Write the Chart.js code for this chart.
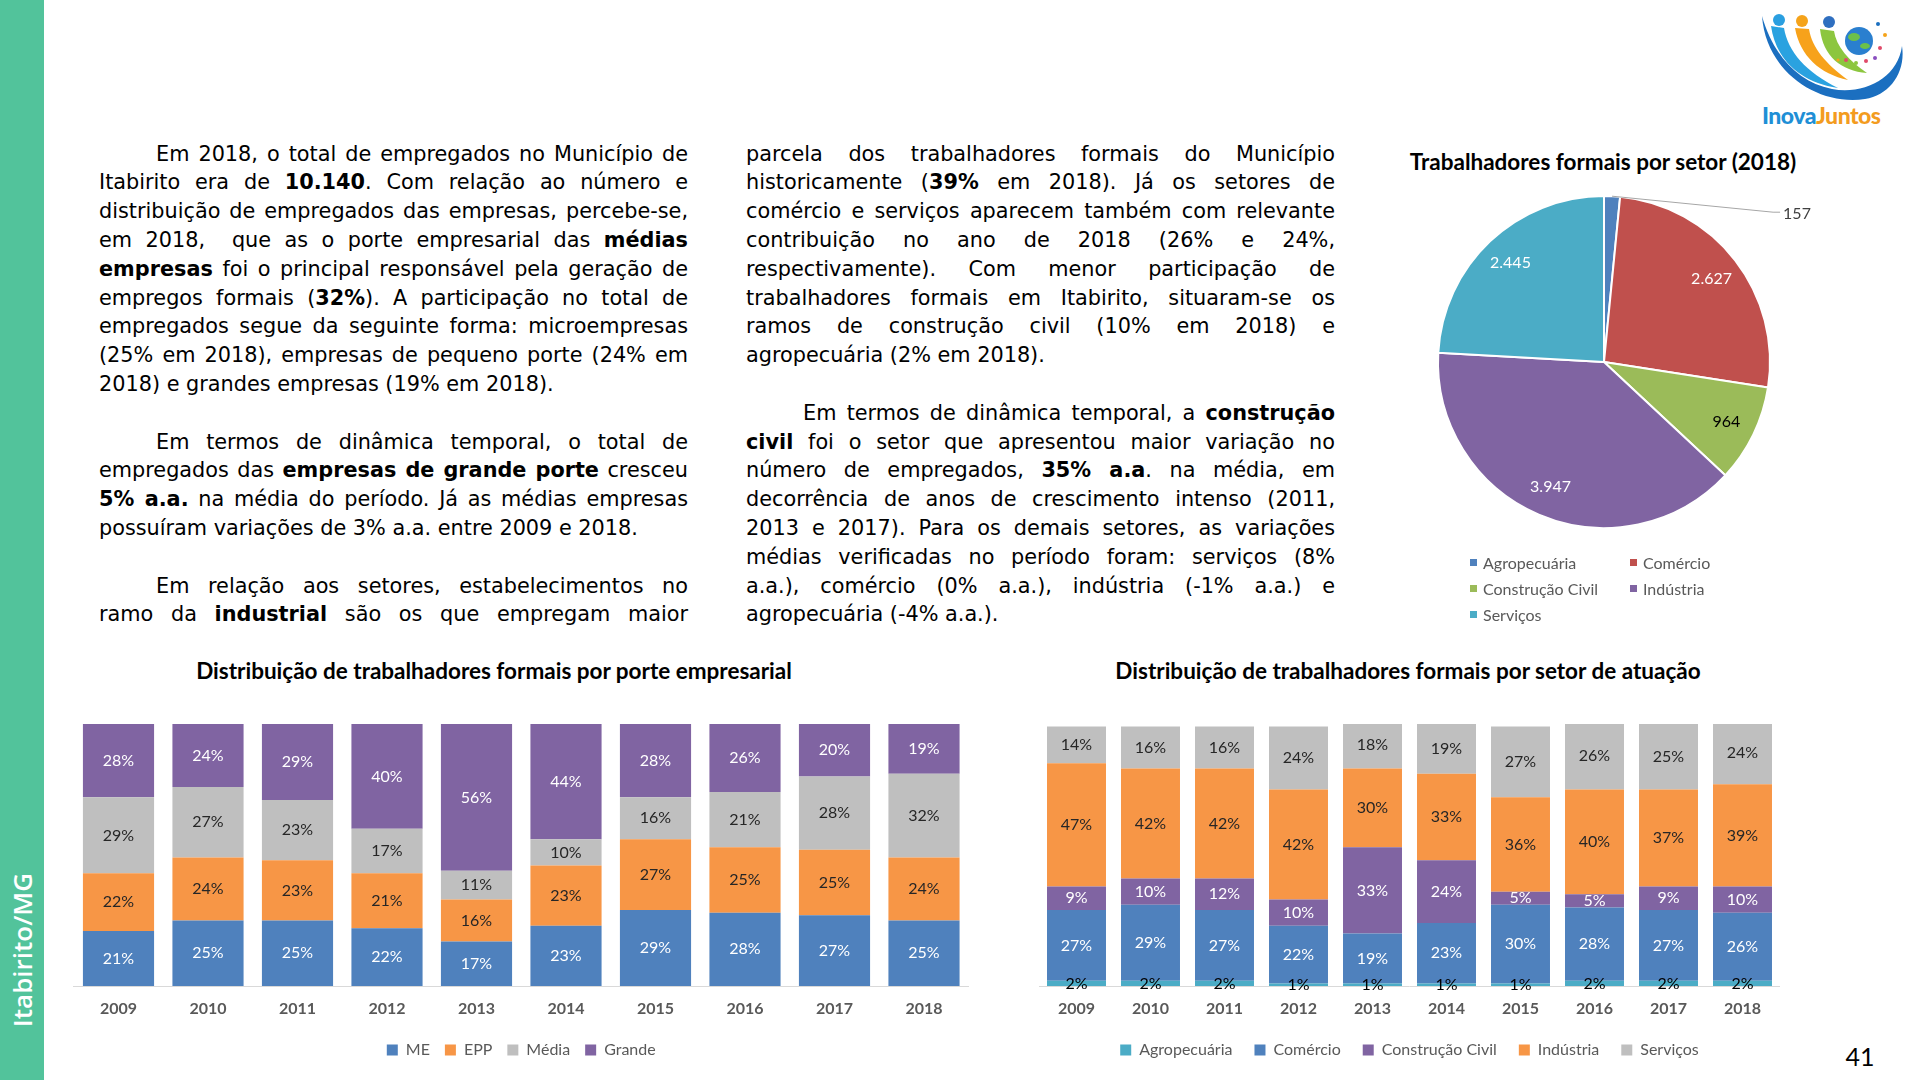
<!DOCTYPE html>
<html lang="pt-BR">
<head>
<meta charset="utf-8">
<title>Itabirito/MG - Trabalhadores formais</title>
<script src="https://cdn.jsdelivr.net/npm/chart.js@4.4.1/dist/chart.umd.min.js"></script>
<style>
  html, body { margin:0; padding:0; background:#fff; }
  #page { position:relative; width:1920px; height:1080px; overflow:hidden; background:#fff; }
  #strip { position:absolute; left:0; top:0; width:44px; height:1080px; background:#52c39b; }
  #stripText { position:absolute; left:22px; top:950px; transform:translate(-50%,-50%) rotate(-90deg);
    color:#fff; font-family:'Open Sans'; font-weight:600; font-size:26px; white-space:nowrap; }
  .col { position:absolute; top:139.6px; width:589px; font-family:'DejaVu Sans'; font-size:20.8px; line-height:28.8px; color:#000; }
  .l { text-align:justify; text-align-last:justify; height:28.8px; }
  .l.last { text-align-last:left; }
  .l.ind { text-indent:57px; }
  .blank { height:28.8px; }
  .ctitle { position:absolute; font-family:Lato; font-weight:700; font-size:22.5px; color:#000; white-space:nowrap; transform:translate(-50%,-50%); }
  .box { position:absolute; }
  #pieLegend { position:absolute; left:1466px; top:549px; font-family:Lato; font-size:16px; color:#595959;
    display:grid; grid-template-columns:160px 140px; grid-auto-rows:26px; }
  #pieLegend .it { display:flex; align-items:center; }
  #pieLegend .sw { width:7px; height:7px; margin-right:6px; margin-left:4px; }
  #logoText { position:absolute; left:1762px; top:101px; font-family:Lato; font-weight:900; font-size:23px; letter-spacing:-0.5px; }
  #pageNum { position:absolute; left:1860px; top:1056px; transform:translate(-50%,-50%); font-family:Lato; font-size:25px; color:#000; }
</style>
</head>
<body>
<div id="page">
  <div id="strip"></div>
  <div id="stripText">Itabirito/MG</div>

  <svg style="position:absolute;left:1740px;top:0px" width="180" height="110" viewBox="0 0 180 110">
    <path d="M 22 16 C 26 72, 78 106, 125 99 C 150 95, 166 72, 162 46 C 158 78, 124 95, 92 89 C 56 82, 32 52, 22 16 Z" fill="#1b6fc0"/>
    <path d="M 31 26 C 36 60, 60 82, 98 88 C 66 72, 48 52, 44 28 Z" fill="#2aa2e0"/>
    <path d="M 55 28 C 60 56, 80 74, 108 80 C 86 64, 72 48, 69 29 Z" fill="#f7a21b"/>
    <path d="M 80 29 C 83 56, 101 71, 127 73 C 109 61, 96 46, 94 31 Z" fill="#8cc63f"/>
    <circle cx="39" cy="20" r="6" fill="#2a9fe0"/>
    <circle cx="62" cy="21" r="6" fill="#f5a31a"/>
    <circle cx="89" cy="22" r="6" fill="#2f6fc0"/>
    <circle cx="119" cy="41" r="14" fill="#2a7fcf"/>
    <ellipse cx="114" cy="37" rx="6" ry="4" fill="#6cc04a"/>
    <ellipse cx="125" cy="46" rx="5" ry="3" fill="#6cc04a"/>
    <circle cx="138" cy="24" r="2" fill="#1b6fc0"/>
    <circle cx="145" cy="35" r="2" fill="#f5a31a"/>
    <circle cx="140" cy="48" r="2" fill="#e04a6a"/>
    <circle cx="106" cy="60" r="2" fill="#e04a6a"/>
    <circle cx="116" cy="63" r="2" fill="#8cc63f"/>
    <circle cx="126" cy="61" r="2" fill="#e04a6a"/>
    <circle cx="135" cy="58" r="2" fill="#8a4fc0"/>
    <circle cx="98" cy="60" r="1.6" fill="#f5a31a"/>
  </svg>
  <div id="logoText"><span style="color:#1f8fd6">Inova</span><span style="color:#f39c1f">Juntos</span></div>

  <div class="col" style="left:99px">
    <div class="l ind">Em 2018, o total de empregados no Município de</div>
    <div class="l">Itabirito era de <b>10.140</b>. Com relação ao número e</div>
    <div class="l">distribuição de empregados das empresas, percebe-se,</div>
    <div class="l">em 2018,&nbsp; que as o porte empresarial das <b>médias</b></div>
    <div class="l"><b>empresas</b> foi o principal responsável pela geração de</div>
    <div class="l">empregos formais (<b>32%</b>). A participação no total de</div>
    <div class="l">empregados segue da seguinte forma: microempresas</div>
    <div class="l">(25% em 2018), empresas de pequeno porte (24% em</div>
    <div class="l last">2018) e grandes empresas (19% em 2018).</div>
    <div class="blank"></div>
    <div class="l ind">Em termos de dinâmica temporal, o total de</div>
    <div class="l">empregados das <b>empresas de grande porte</b> cresceu</div>
    <div class="l"><b>5% a.a.</b> na média do período. Já as médias empresas</div>
    <div class="l last">possuíram variações de 3% a.a. entre 2009 e 2018.</div>
    <div class="blank"></div>
    <div class="l ind">Em relação aos setores, estabelecimentos no</div>
    <div class="l">ramo da <b>industrial</b> são os que empregam maior</div>
  </div>

  <div class="col" style="left:746px">
    <div class="l">parcela dos trabalhadores formais do Município</div>
    <div class="l">historicamente (<b>39%</b> em 2018). Já os setores de</div>
    <div class="l">comércio e serviços aparecem também com relevante</div>
    <div class="l">contribuição no ano de 2018 (26% e 24%,</div>
    <div class="l">respectivamente). Com menor participação de</div>
    <div class="l">trabalhadores formais em Itabirito, situaram-se os</div>
    <div class="l">ramos de construção civil (10% em 2018) e</div>
    <div class="l last">agropecuária (2% em 2018).</div>
    <div class="blank"></div>
    <div class="l ind">Em termos de dinâmica temporal, a <b>construção</b></div>
    <div class="l"><b>civil</b> foi o setor que apresentou maior variação no</div>
    <div class="l">número de empregados, <b>35% a.a</b>. na média, em</div>
    <div class="l">decorrência de anos de crescimento intenso (2011,</div>
    <div class="l">2013 e 2017). Para os demais setores, as variações</div>
    <div class="l">médias verificadas no período foram: serviços (8%</div>
    <div class="l">a.a.), comércio (0% a.a.), indústria (-1% a.a.) e</div>
    <div class="l last">agropecuária (-4% a.a.).</div>
  </div>

  <div class="ctitle" style="left:1603px;top:161px">Trabalhadores formais por setor (2018)</div>
  <div class="box" style="left:1374px;top:162px;width:460px;height:400px"><canvas id="pie"></canvas></div>
  <div id="pieLegend"></div>

  <div class="ctitle" style="left:494px;top:670px">Distribuição de trabalhadores formais por porte empresarial</div>
  <div class="box" style="left:64px;top:700px;width:914px;height:375px"><canvas id="bar1"></canvas></div>

  <div class="ctitle" style="left:1408px;top:670px">Distribuição de trabalhadores formais por setor de atuação</div>
  <div class="box" style="left:1030px;top:700px;width:760px;height:375px"><canvas id="bar2"></canvas></div>

  <div id="pageNum">41</div>
</div>

<script>
// ---------- DATA ----------
const years = ['2009', '2010', '2011', '2012', '2013', '2014', '2015', '2016', '2017', '2018'];

// Distribuição por porte empresarial (%)
const porteLabels = ['ME', 'EPP', 'Média', 'Grande'];
const meValues     = [21, 25, 25, 22, 17, 23, 29, 28, 27, 25];
const eppValues    = [22, 24, 23, 21, 16, 23, 27, 25, 25, 24];
const mediaValues  = [29, 27, 23, 17, 11, 10, 16, 21, 28, 32];
const grandeValues = [28, 24, 29, 40, 56, 44, 28, 26, 20, 19];

// Distribuição por setor de atuação (%)
const setorLabels = ['Agropecuária', 'Comércio', 'Construção Civil', 'Indústria', 'Serviços'];
const agroValues       = [2, 2, 2, 1, 1, 1, 1, 2, 2, 2];
const comercioValues   = [27, 29, 27, 22, 19, 23, 30, 28, 27, 26];
const construcaoValues = [9, 10, 12, 10, 33, 24, 5, 5, 9, 10];
const industriaValues  = [47, 42, 42, 42, 30, 33, 36, 40, 37, 39];
const servicosValues   = [14, 16, 16, 24, 18, 19, 27, 26, 25, 24];

// Trabalhadores formais por setor (2018)
const pieLabels = ['Agropecuária', 'Comércio', 'Construção Civil', 'Indústria', 'Serviços'];
const pieValues = [157, 2627, 964, 3947, 2445];

// ---------- STYLE ----------
const C = { blue:'#4f81bd', orange:'#f79646', gray:'#bfbfbf', purple:'#8064a2', teal:'#4bacc6', red:'#c0504d', green:'#9bbb59' };
const pieColors = [C.blue, C.red, C.green, C.purple, C.teal];
const pieTextColors = ['#404040', '#ffffff', '#000000', '#ffffff', '#ffffff'];

Chart.defaults.font.family = 'Lato';
Chart.defaults.color = '#595959';
Chart.defaults.animation = false;

function fmtBR(v) { return String(v).replace(/\B(?=(\d{3})+(?!\d))/g, '.'); }

const barLabelPlugin = {
  id: 'barLabels',
  afterDatasetsDraw(chart) {
    const ctx = chart.ctx;
    chart.data.datasets.forEach((ds, di) => {
      const meta = chart.getDatasetMeta(di);
      if (meta.hidden) return;
      meta.data.forEach((bar, i) => {
        const p = bar.getProps(['x', 'y', 'base'], true);
        ctx.save();
        ctx.font = '16px Lato';
        ctx.fillStyle = ds.labelColor;
        ctx.textAlign = 'center';
        ctx.textBaseline = 'middle';
        ctx.fillText(ds.data[i] + '%', p.x, (p.y + p.base) / 2);
        ctx.restore();
      });
    });
  }
};

const pieLabelPlugin = {
  id: 'pieLabels',
  afterDatasetsDraw(chart) {
    const ctx = chart.ctx;
    const meta = chart.getDatasetMeta(0);
    const ds = chart.data.datasets[0];
    meta.data.forEach((arc, i) => {
      const p = arc.getProps(['x', 'y', 'startAngle', 'endAngle', 'outerRadius'], true);
      const mid = (p.startAngle + p.endAngle) / 2;
      const text = fmtBR(ds.data[i]);
      ctx.save();
      ctx.font = '16px Lato';
      ctx.textBaseline = 'middle';
      if (p.endAngle - p.startAngle < 0.2) {
        const ex = p.x + Math.cos(mid) * p.outerRadius;
        const ey = p.y + Math.sin(mid) * p.outerRadius;
        ctx.strokeStyle = '#a6a6a6';
        ctx.lineWidth = 1;
        ctx.beginPath();
        ctx.moveTo(ex, ey);
        ctx.lineTo(ex + 161, ey + 16);
        ctx.lineTo(ex + 168, ey + 16);
        ctx.stroke();
        ctx.fillStyle = pieTextColors[i];
        ctx.textAlign = 'left';
        ctx.fillText(text, ex + 171, ey + 18);
      } else {
        const r = p.outerRadius * 0.82;
        ctx.fillStyle = pieTextColors[i];
        ctx.textAlign = 'center';
        ctx.fillText(text, p.x + Math.cos(mid) * r, p.y + Math.sin(mid) * r);
      }
      ctx.restore();
    });
  }
};

function barOptions(padL, padR, legendPad, axisH) {
  return {
    responsive: true,
    maintainAspectRatio: false,
    layout: { padding: { left: padL, right: padR, top: 24, bottom: 7 } },
    plugins: {
      legend: {
        position: 'bottom',
        labels: { boxWidth: 11, boxHeight: 11, padding: legendPad, color: '#595959', font: { size: 16, family: 'Lato' } }
      },
      tooltip: { enabled: false },
      title: { display: false }
    },
    scales: {
      x: {
        stacked: true,
        grid: { display: false, drawTicks: false },
        border: { display: true, color: '#d9d9d9', width: 1 },
        ticks: { color: '#595959', padding: 13, font: { size: 16, weight: 'bold', family: 'Lato' } },
        afterFit(scale) { scale.height = axisH; }
      },
      y: { stacked: true, display: false, min: 0, max: 100 }
    }
  };
}

new Chart(document.getElementById('bar1'), {
  type: 'bar',
  data: {
    labels: years,
    datasets: [
      { label: porteLabels[0], data: meValues,     backgroundColor: C.blue,   labelColor: '#ffffff' },
      { label: porteLabels[1], data: eppValues,    backgroundColor: C.orange, labelColor: '#262626' },
      { label: porteLabels[2], data: mediaValues,  backgroundColor: C.gray,   labelColor: '#262626' },
      { label: porteLabels[3], data: grandeValues, backgroundColor: C.purple, labelColor: '#ffffff' }
    ].map(d => Object.assign(d, { barPercentage: 0.795, categoryPercentage: 1 }))
  },
  options: barOptions(9.75, 9.25, 15, 41),
  plugins: [barLabelPlugin]
});

new Chart(document.getElementById('bar2'), {
  type: 'bar',
  data: {
    labels: years,
    datasets: [
      { label: setorLabels[0], data: agroValues,       backgroundColor: C.teal,   labelColor: '#000000' },
      { label: setorLabels[1], data: comercioValues,   backgroundColor: C.blue,   labelColor: '#ffffff' },
      { label: setorLabels[2], data: construcaoValues, backgroundColor: C.purple, labelColor: '#ffffff' },
      { label: setorLabels[3], data: industriaValues,  backgroundColor: C.orange, labelColor: '#262626' },
      { label: setorLabels[4], data: servicosValues,   backgroundColor: C.gray,   labelColor: '#262626' }
    ].map(d => Object.assign(d, { barPercentage: 0.797, categoryPercentage: 1 }))
  },
  options: barOptions(9.5, 10.5, 22, 34),
  plugins: [barLabelPlugin]
});

new Chart(document.getElementById('pie'), {
  type: 'pie',
  data: {
    labels: pieLabels,
    datasets: [{ data: pieValues, backgroundColor: pieColors, borderColor: '#ffffff', borderWidth: 2 }]
  },
  options: {
    responsive: true,
    maintainAspectRatio: false,
    layout: { padding: 33 },
    plugins: { legend: { display: false }, tooltip: { enabled: false } }
  },
  plugins: [pieLabelPlugin]
});

// HTML legend for the pie, built from the same arrays
const lg = document.getElementById('pieLegend');
pieLabels.forEach((name, i) => {
  const it = document.createElement('div');
  it.className = 'it';
  const sw = document.createElement('span');
  sw.className = 'sw';
  sw.style.background = pieColors[i];
  const tx = document.createElement('span');
  tx.textContent = name;
  it.appendChild(sw); it.appendChild(tx);
  lg.appendChild(it);
});
</script>
</body>
</html>
